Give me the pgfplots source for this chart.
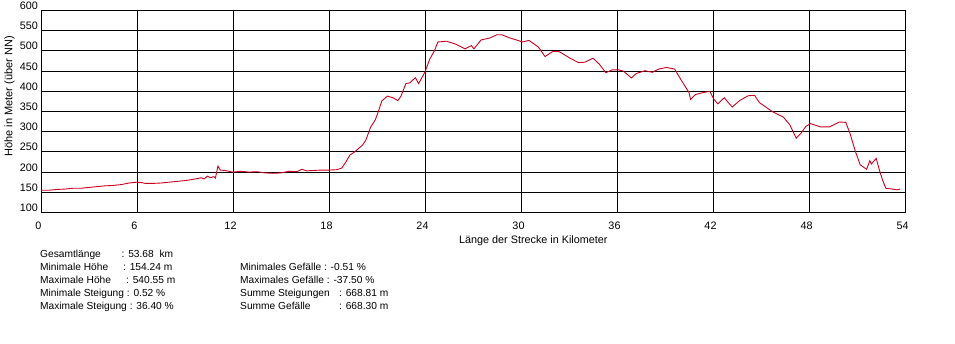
\documentclass[border=0pt]{standalone}
\usepackage{pgfplots}
\pgfplotsset{compat=1.18}
\usepackage{fontspec}
\setmainfont{Liberation Sans}
\definecolor{profil}{RGB}{205,0,30}
\pgfplotstableread{
km m
0 155
0.5 155
1 157
1.5 158
2 160
2.5 160
3 162
3.5 164
4 166
4.5 167
5 169
5.5 173
6 175
6.3 174
6.5 172
7 172
7.5 173
8 175
8.5 177
9 179
9.5 182
9.8 184
10 186
10.2 183
10.4 190
10.6 186
10.8 189
10.9 185
11.06 215
11.2 205
11.5 204
12 200
12.5 202
13 200
13.5 201
14 198
14.5 197
15 198
15.5 202
16 201
16.3 207
16.6 203
17 204
17.5 205
18 205
18.5 206
18.8 210
19.1 228
19.3 242
19.6 250
20.1 267
20.3 279
20.6 311
20.9 330
21.1 352
21.3 376
21.65 388
22.0 384
22.3 377
22.5 388
22.8 419
23.06 421
23.4 434
23.6 419
24.0 448
24.3 480
24.6 501
24.8 522
25.35 524
25.9 517
26.5 505
26.9 513
27.06 505
27.5 527
28.06 532
28.5 540
28.8 540
29.3 532
29.8 526
30.1 522
30.5 526
31.1 509
31.5 486
32.0 499
32.4 498
33.06 482
33.6 471
34.0 472
34.5 482
34.9 467
35.3 446
35.7 453
36.1 453
36.4 450
36.9 433
37.2 444
37.75 451
38.2 447
38.6 455
39.1 459
39.6 455
40.04 426
40.5 397
40.6 380
40.9 392
41.4 397
41.8 400
42.06 380
42.3 369
42.7 384
43.2 361
43.7 378
44.2 389
44.6 390
44.9 372
45.7 350
46.4 336
46.8 317
47.2 284
47.5 296
47.8 313
48.1 320
48.7 312
49.3 312
49.9 324
50.3 323
50.56 296
50.9 251
51.2 218
51.6 207
51.8 228
51.9 220
52.2 234
52.4 205
52.6 180
52.8 160
53.2 158
53.5 156
53.68 158
}\profil
\begin{document}
\begin{tikzpicture}[x=1pt,y=1pt]
\path[fill=white] (0,0) rectangle (955,344);
\begin{axis}[
  at={(41pt,131.5pt)}, anchor=south west,
  scale only axis, width=864pt, height=202pt,
  xmin=0, xmax=54, ymin=100, ymax=600,
  xtick={0,6,...,54}, ytick={100,150,...,600},
  grid=major,
  major grid style={black, line width=0.9pt},
  axis line style={black, line width=0.9pt},
  major tick length=0pt,
  /pgf/number format/assume math mode=true,
  tick label style={font=\fontsize{10.8}{12}\selectfont},
  yticklabel style={anchor=base east, inner sep=0pt, xshift=-3pt, yshift=1pt},
  xticklabel style={anchor=base, inner sep=0pt, yshift=-16.8pt, xshift=-2.5pt},
  clip=false,
]
\addplot[profil, line width=0.9pt] table[x=km, y=m] {\profil};
\end{axis}
\node[rotate=90, inner sep=0pt, font=\fontsize{11}{12}\selectfont] at (9.5,247.5) {Höhe in Meter (über NN)};
\node[anchor=base west, inner sep=0pt, font=\fontsize{10.8}{12}\selectfont] at (459,100.5) {Länge der Strecke in Kilometer};
\begin{scope}[every node/.style={anchor=base west, inner sep=0pt, font=\fontsize{10.2}{12}\selectfont}]
\node at (40,86) {Gesamtlänge};
\node at (121.5,86) {: 53.68\ \ km};
\node at (40,73) {Minimale Höhe};
\node at (123,73) {: 154.24 m};
\node at (40,60) {Maximale Höhe};
\node at (126,60) {: 540.55 m};
\node at (40,47) {Minimale Steigung : 0.52 \%};
\node at (40,34) {Maximale Steigung : 36.40 \%};
\node at (240,73) {Minimales Gefälle : -0.51 \%};
\node at (240,60) {Maximales Gefälle : -37.50 \%};
\node at (240,47) {Summe Steigungen};
\node at (339,47) {: 668.81 m};
\node at (240,34) {Summe Gefälle};
\node at (339,34) {: 668.30 m};
\end{scope}
\end{tikzpicture}
\end{document}
